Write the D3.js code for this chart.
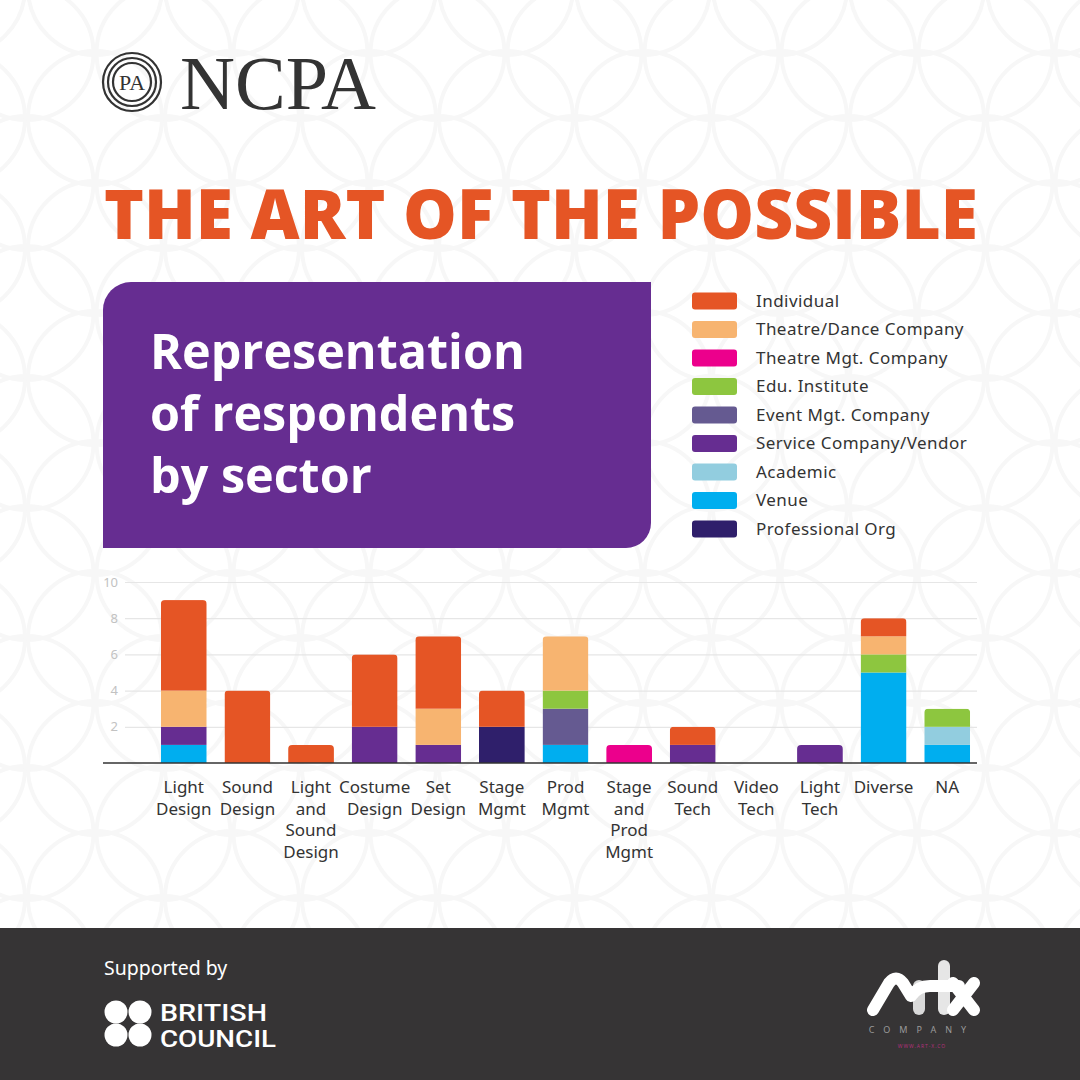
<!DOCTYPE html>
<html>
<head>
<meta charset="utf-8">
<script src="https://cdn.jsdelivr.net/npm/d3@7"></script>
<style>
  body { margin: 0; background: #fff; }
  svg { display: block; font-family: "Noto Sans", sans-serif; }
</style>
</head>
<body>
<div id="chart"></div>
<script>
// Representation of respondents by sector - stacked bars

// categories and wrapped tick labels
const categories = ["Light Design", "Sound Design", "Light and Sound Design", "Costume Design",
  "Set Design", "Stage Mgmt", "Prod Mgmt", "Stage and Prod Mgmt", "Sound Tech",
  "Video Tech", "Light Tech", "Diverse", "NA"];
const tickLines = [["Light", "Design"], ["Sound", "Design"], ["Light", "and", "Sound", "Design"],
  ["Costume", "Design"], ["Set", "Design"], ["Stage", "Mgmt"], ["Prod", "Mgmt"],
  ["Stage", "and", "Prod", "Mgmt"], ["Sound", "Tech"], ["Video", "Tech"], ["Light", "Tech"],
  ["Diverse"], ["NA"]];

// one array per sector (same order as categories)
const individual      = [5, 4, 1, 4, 4, 2, 0, 0, 1, 0, 0, 1, 0];
const theatreDance    = [2, 0, 0, 0, 2, 0, 3, 0, 0, 0, 0, 1, 0];
const theatreMgt      = [0, 0, 0, 0, 0, 0, 0, 1, 0, 0, 0, 0, 0];
const eduInstitute    = [0, 0, 0, 0, 0, 0, 1, 0, 0, 0, 0, 1, 1];
const eventMgt        = [0, 0, 0, 0, 0, 0, 2, 0, 0, 0, 0, 0, 0];
const serviceVendor   = [1, 0, 0, 2, 1, 0, 0, 0, 1, 0, 1, 0, 0];
const academic        = [0, 0, 0, 0, 0, 0, 0, 0, 0, 0, 0, 0, 1];
const venue           = [1, 0, 0, 0, 0, 0, 1, 0, 0, 0, 0, 5, 1];
const professionalOrg = [0, 0, 0, 0, 0, 2, 0, 0, 0, 0, 0, 0, 0];

// legend order (top to bottom) and colours
const sectorNames = ["Individual", "Theatre/Dance Company", "Theatre Mgt. Company", "Edu. Institute",
  "Event Mgt. Company", "Service Company/Vendor", "Academic", "Venue", "Professional Org"];
const sectorValues = [individual, theatreDance, theatreMgt, eduInstitute, eventMgt,
  serviceVendor, academic, venue, professionalOrg];
const sectorColors = ["#e55525", "#f7b470", "#ec008c", "#8dc63f", "#655a91",
  "#662d91", "#92cddf", "#00aeef", "#2f1f6b"];
// stacking order from the bottom up
const stackOrder = ["Venue", "Academic", "Professional Org", "Service Company/Vendor",
  "Event Mgt. Company", "Edu. Institute", "Theatre Mgt. Company", "Theatre/Dance Company", "Individual"];
const yTicks = [2, 4, 6, 8, 10];

const width = 1080, height = 1080;

const svg = d3.select("#chart").append("svg")
  .attr("width", width).attr("height", height)
  .attr("viewBox", [0, 0, width, height]);

// faint circle pattern in the background
const bg = svg.append("g").attr("fill", "none").attr("stroke", "#f7f7f7").attr("stroke-width", 4);
for (let j = -1; j < 10; j++) {
  for (let k = -6; k < 4; k++) {
    bg.append("circle").attr("cx", 711.5 + 137 * k).attr("cy", 53 + 130 * j).attr("r", 67);
    bg.append("circle").attr("cx", 643 + 137 * k).attr("cy", 118 + 130 * j).attr("r", 67);
  }
}

// NCPA logo
const logo = svg.append("g").attr("stroke", "#333").attr("fill", "none").attr("stroke-width", 2.2);
[29, 24, 19].forEach(r => logo.append("circle").attr("cx", 132).attr("cy", 82).attr("r", r));
svg.append("text").attr("x", 132).attr("y", 90).attr("text-anchor", "middle")
  .attr("font-family", "Liberation Serif").attr("font-size", 22).attr("fill", "#333")
  .attr("textLength", 26).attr("lengthAdjust", "spacingAndGlyphs").text("PA");
svg.append("text").attr("x", 180).attr("y", 109)
  .attr("font-family", "Liberation Serif").attr("font-size", 77).attr("fill", "#333")
  .attr("textLength", 196).attr("lengthAdjust", "spacingAndGlyphs").text("NCPA");

// headline
svg.append("text").attr("x", 104).attr("y", 239)
  .attr("font-family", "Open Sans").attr("font-weight", 800).attr("font-size", 69)
  .attr("fill", "#e55525").attr("textLength", 874).attr("lengthAdjust", "spacingAndGlyphs")
  .text("THE ART OF THE POSSIBLE");

// purple title box
svg.append("path")
  .attr("d", "M103,548 V310 A28,28 0 0 1 131,282 H651 V523 A25,25 0 0 1 626,548 Z")
  .attr("fill", "#662d91");
const titleLines = ["Representation", "of respondents", "by sector"];
svg.append("g").selectAll("text").data(titleLines).join("text")
  .attr("x", 150).attr("y", (d, i) => 369 + i * 62)
  .attr("font-family", "Open Sans").attr("font-weight", 700).attr("font-size", 48.5)
  .attr("fill", "#fff").text(d => d);

// legend
const legend = svg.append("g").selectAll("g").data(sectorNames).join("g")
  .attr("transform", (d, i) => `translate(692,${301 + i * 28.5})`);
legend.append("rect").attr("y", -8.5).attr("width", 45).attr("height", 17).attr("rx", 3)
  .attr("fill", (d, i) => sectorColors[i]);
legend.append("text").attr("x", 64).attr("dy", "0.35em")
  .attr("font-size", 17).attr("letter-spacing", 0.45).attr("fill", "#333").text(d => d);

// chart
const x = d3.scaleBand()
  .domain(categories)
  .range([152, 979])
  .paddingInner(0.28)
  .paddingOuter(0.14);

const y = d3.scaleLinear()
  .domain([0, 10])
  .range([763, 582]);

svg.append("g")
  .attr("transform", "translate(125,0)")
  .call(d3.axisLeft(y).tickValues(yTicks).tickSize(-(977 - 125)).tickPadding(7))
  .call(g => g.select(".domain").remove())
  .call(g => g.selectAll(".tick line").attr("stroke", "#e6e6e6").attr("stroke-width", 1.2))
  .call(g => g.selectAll(".tick text").attr("fill", "#c2c2c2").attr("font-size", 13)
    .attr("font-family", "Noto Sans"));

// stacked data
const table = categories.map((c, i) => {
  const row = { category: c };
  sectorNames.forEach((s, k) => row[s] = sectorValues[k][i]);
  return row;
});
const series = d3.stack().keys(stackOrder)(table);
const colorOf = d3.scaleOrdinal().domain(sectorNames).range(sectorColors);

// rounded tops through one clip per column
const defs = svg.append("defs");
table.forEach((row, i) => {
  const total = d3.sum(stackOrder, k => row[k]);
  defs.append("clipPath").attr("id", "clip" + i)
    .append("rect")
    .attr("x", x(row.category)).attr("width", x.bandwidth())
    .attr("y", y(total)).attr("height", y(0) - y(total) + 10)
    .attr("rx", 4);
});

const bars = svg.append("g");
series.forEach(s => {
  bars.append("g").attr("fill", colorOf(s.key))
    .selectAll("rect").data(s).join("rect")
    .attr("clip-path", (d, i) => `url(#clip${i})`)
    .attr("x", d => x(d.data.category))
    .attr("y", d => y(d[1]))
    .attr("width", x.bandwidth())
    .attr("height", d => y(d[0]) - y(d[1]));
});

// baseline
svg.append("line").attr("x1", 103).attr("x2", 977).attr("y1", y(0)).attr("y2", y(0))
  .attr("stroke", "#333").attr("stroke-width", 1.5);

// x axis with wrapped labels
const xAxis = svg.append("g")
  .attr("transform", `translate(0,${y(0)})`)
  .call(d3.axisBottom(x).tickSize(0).tickPadding(0))
  .call(g => g.select(".domain").remove());
xAxis.selectAll(".tick text").each(function (d, i) {
  const t = d3.select(this).text(null).attr("y", 0).attr("dy", null)
    .attr("fill", "#333").attr("font-size", 17).attr("font-family", "Noto Sans");
  tickLines[i].forEach((w, j) => t.append("tspan").attr("x", 0).attr("y", 30 + j * 21.5).text(w));
});

// footer
svg.append("rect").attr("x", 0).attr("y", 928).attr("width", width).attr("height", height - 928)
  .attr("fill", "#363435");
svg.append("text").attr("x", 104).attr("y", 975).attr("font-size", 19.5).attr("fill", "#fff")
  .attr("font-family", "Noto Sans").text("Supported by");

const bc = svg.append("g").attr("fill", "#fff");
[[116, 1012], [140, 1012], [116, 1035], [140, 1035]].forEach(([cx, cy]) =>
  bc.append("circle").attr("cx", cx).attr("cy", cy).attr("r", 11.5));
const bcText = bc.append("text").attr("font-size", 23).attr("font-weight", 500)
  .attr("font-family", "Roboto");
bcText.append("tspan").attr("x", 160).attr("y", 1021).attr("textLength", 107)
  .attr("lengthAdjust", "spacingAndGlyphs").text("BRITISH");
bcText.append("tspan").attr("x", 160).attr("y", 1047).attr("textLength", 116)
  .attr("lengthAdjust", "spacingAndGlyphs").text("COUNCIL");

// art-x logo
const ax = svg.append("g").attr("fill", "none").attr("stroke-linecap", "round")
  .attr("stroke-linejoin", "round").attr("stroke-width", 12);
ax.append("path").attr("d", "M919,986 V1009").attr("stroke", "#d9d9d9");
ax.append("path").attr("d", "M944,966 V1009").attr("stroke", "#e6e6e6");
ax.append("path").attr("d", "M873,1010 L889,983 Q896,974 903,983 L911,996 Q918,986 930,986 H959").attr("stroke", "#fff");
ax.append("path").attr("d", "M953,983 L974,1010 M974,983 L953,1010").attr("stroke", "#fff");
svg.append("text").attr("x", 922).attr("y", 1033).attr("text-anchor", "middle")
  .attr("font-size", 9).attr("letter-spacing", 9).attr("fill", "#9a9a9a").text("COMPANY");
svg.append("text").attr("x", 922).attr("y", 1048).attr("text-anchor", "middle")
  .attr("font-size", 5).attr("letter-spacing", 1).attr("fill", "#b0307a").text("WWW.ART-X.CO");
</script>
</body>
</html>
